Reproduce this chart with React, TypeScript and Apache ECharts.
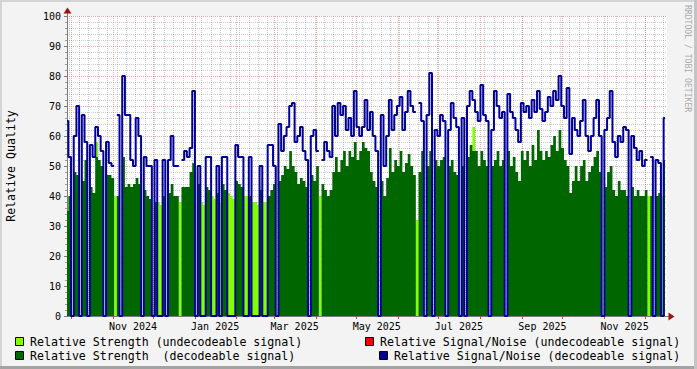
import React, { useEffect, useRef } from 'react';
import * as echarts from 'echarts';

const DAY = 86400000;
const START = Date.UTC(2024, 8, 28);
const END = START + 445.5 * DAY;
const STEP_DAYS = 2;

// Relative Signal/Noise (decodeable signal), one value per 2 days from START
const snrDecodeable: (number | null)[] = [
  65, 53, 0, 60, 70, 0, 67, 58, 0, 57,
  53, 63, 60, 55, 0, 58, 51, 50, null, 67,
  0, 80, 67, 67, 52, 50, 66, 60, 0, 53,
  50, 50, 0, 52, 0, 0, 52, 0, 52, 60,
  50, 50, null, 52, 55, 53, 56, 75, 0, 50,
  0, 0, 53, 53, 0, 0, 50, 0, 53, 53,
  0, 0, 0, 57, 53, 53, 0, 0, 53, 0,
  0, 0, 50, 0, 0, 57, 57, 50, 0, 64,
  55, 60, 63, 70, 71, 58, 60, 63, 55, 52,
  0, 60, 62, 55, null, 52, 58, 55, 53, 70,
  60, 71, 67, 70, 62, 66, 60, 75, 63, 60,
  63, 72, 62, 68, 60, 55, 0, 67, 50, 60,
  72, 62, 67, 70, 73, 62, 68, 75, 70, 68,
  null, 71, 65, 0, 67, 81, 0, 62, 60, 67,
  65, 0, 62, 71, 66, 63, 0, 66, 0, 70,
  75, 72, 68, 65, 77, 67, 65, 0, 62, 75,
  70, 66, 68, 0, 74, 68, 66, 62, 58, 71,
  68, 70, 66, 72, 68, 75, 69, 65, 68, 73,
  70, 75, 72, 80, 70, 66, 76, 54, 66, 62,
  60, 65, 72, 60, 55, 60, 66, 72, 60, 0,
  62, 66, 75, 58, 53, 60, 58, 63, 62, 0,
  60, 56, 52, 55, 50, 52, null, 53, 0, 52,
  51, 0, 66,
];

// Relative Strength (decodeable signal)
const strengthDecodeable = [
  35, 40, 0, 48, 47, 0, 45, 52, 0, 43,
  41, 53, 52, 50, 0, 47, 47, 46, 0, 40,
  0, 53, 43, 44, 43, 44, 46, 44, 0, 42,
  40, 39, 0, 38, 0, 0, 40, 0, 41, 44,
  40, 40, 0, 43, 43, 43, 48, 51, 0, 44,
  0, 0, 43, 42, 0, 0, 41, 0, 44, 42,
  0, 0, 0, 45, 44, 43, 0, 0, 40, 0,
  0, 0, 42, 0, 0, 40, 42, 44, 0, 45,
  47, 50, 49, 55, 50, 48, 44, 46, 45, 43,
  0, 47, 45, 50, 0, 44, 42, 40, 42, 48,
  53, 48, 52, 55, 50, 55, 53, 58, 52, 55,
  58, 56, 55, 48, 45, 43, 0, 45, 40, 46,
  56, 48, 52, 50, 55, 48, 51, 54, 50, 47,
  0, 48, 55, 0, 50, 55, 0, 52, 50, 52,
  53, 0, 50, 52, 48, 47, 0, 50, 0, 53,
  57, 55, 55, 50, 55, 52, 50, 0, 50, 52,
  55, 50, 52, 0, 55, 50, 53, 48, 45, 55,
  52, 55, 50, 57, 52, 62, 55, 52, 55, 53,
  57, 60, 55, 62, 56, 52, 50, 41, 45, 50,
  45, 50, 52, 45, 48, 50, 53, 55, 48, 0,
  43, 48, 50, 42, 40, 45, 42, 42, 40, 0,
  43, 40, 42, 40, 40, 42, 0, 40, 0, 40,
  41, 0, 52,
];

// Relative Strength (undecodeable signal)
const strengthUndecodeable = [
  35, 0, 0, 0, 0, 0, 0, 0, 0, 0,
  0, 58, 0, 0, 0, 0, 0, 0, 40, 0,
  0, 0, 0, 0, 0, 0, 0, 0, 0, 0,
  0, 0, 0, 0, 38, 37, 0, 0, 0, 0,
  0, 0, 38, 0, 0, 0, 0, 0, 0, 0,
  38, 37, 0, 0, 40, 39, 0, 38, 0, 0,
  41, 40, 39, 0, 0, 0, 40, 40, 0, 38,
  38, 37, 0, 38, 38, 0, 0, 0, 0, 0,
  0, 0, 0, 0, 0, 0, 0, 0, 0, 0,
  0, 0, 0, 0, 40, 0, 0, 0, 0, 0,
  0, 0, 0, 0, 0, 0, 0, 0, 0, 0,
  0, 0, 0, 0, 0, 0, 0, 0, 0, 0,
  0, 0, 0, 0, 0, 0, 0, 0, 0, 0,
  32, 0, 0, 0, 0, 0, 0, 0, 0, 0,
  0, 0, 0, 0, 0, 0, 0, 0, 0, 0,
  0, 63, 0, 0, 0, 0, 0, 0, 0, 0,
  0, 0, 0, 0, 0, 0, 0, 0, 0, 0,
  0, 0, 0, 0, 0, 0, 0, 0, 0, 0,
  0, 0, 0, 0, 0, 0, 0, 0, 0, 0,
  0, 0, 0, 0, 0, 0, 0, 0, 0, 0,
  0, 0, 0, 0, 0, 0, 0, 0, 0, 0,
  0, 0, 0, 0, 0, 0, 40, 0, 0, 0,
  0, 40, 0,
];

// Relative Signal/Noise (undecodeable signal): no samples in this period
const snrUndecodeable: number[] = [];

const xTickLabels = ['Nov 2024', 'Jan 2025', 'Mar 2025', 'May 2025', 'Jul 2025', 'Sep 2025', 'Nov 2025'];
const xLabelMonths: [number, number][] = [[2024, 10], [2025, 0], [2025, 2], [2025, 4], [2025, 6], [2025, 8], [2025, 10]];
const yTicks = [0, 10, 20, 30, 40, 50, 60, 70, 80, 90, 100];

const seriesNames = [
  'Relative Strength (undecodeable signal)',
  'Relative Signal/Noise (undecodeable signal)',
  'Relative Strength  (decodeable signal)',
  'Relative Signal/Noise (decodeable signal)',
];
const colors = ['#80FF00', '#FF0000', '#006600', '#000099'];

const MONO = 'DejaVu Sans Mono';

function monthStarts(): number[] {
  const out: number[] = [];
  for (let y = 2024; y <= 2025; y++) {
    for (let m = 0; m < 12; m++) {
      const t = Date.UTC(y, m, 1);
      if (t > START && t < END) out.push(t);
    }
  }
  return out;
}

function weekStarts(): number[] {
  const out: number[] = [];
  let t = Date.UTC(2024, 8, 30); // Monday
  while (t < END) {
    out.push(t);
    t += 7 * DAY;
  }
  return out;
}

const labelValues = xLabelMonths.map(([y, m]) => Date.UTC(y, m, 1) + 15 * DAY);

function pairs(arr: (number | null)[]) {
  return arr.map((v, i) => [START + i * STEP_DAYS * DAY, v]);
}

export default function App() {
  const ref = useRef<HTMLDivElement>(null);
  useEffect(() => {
    const chart = echarts.init(ref.current!, null, { renderer: 'svg', width: 697, height: 369 });
    const gridLeft = 67, gridTop = 16, gridW = 600, gridH = 300;
    const axisColor = '#7A7A7A';
    const majorGrid = 'rgba(205,90,90,0.5)';
    const minorGrid = 'rgba(140,140,140,0.45)';
    const legendRows = [
      { x: 15, y: 337, name: seriesNames[0], color: colors[0] },
      { x: 365, y: 337, name: seriesNames[1], color: colors[1] },
      { x: 15, y: 351, name: seriesNames[2], color: colors[2] },
      { x: 379, y: 351, name: seriesNames[3], color: colors[3] },
    ];
    const legendGraphics: any[] = [];
    legendRows.forEach((r) => {
      legendGraphics.push({
        type: 'rect',
        shape: { x: r.x + 0.5, y: r.y + 0.5, width: 8, height: 8 },
        style: { fill: r.color, stroke: '#000', lineWidth: 1 },
      });
      legendGraphics.push({
        type: 'text',
        x: r.x + 15,
        y: r.y + 4.5,
        style: { text: r.name, fill: '#000', font: `11.6px "${MONO}"`, textVerticalAlign: 'middle', textAlign: 'left' },
      });
    });

    const option: any = {
      animation: false,
      grid: {
        left: gridLeft, top: gridTop, width: gridW, height: gridH,
        containLabel: false, outerBoundsMode: 'none',
        show: true, backgroundColor: '#FFFFFF', borderWidth: 0,
      },
      xAxis: [
        {
          type: 'value', min: START, max: END, position: 'bottom',
          axisLine: { show: true, onZero: false, lineStyle: { color: axisColor, width: 1 } },
          axisTick: { show: true, customValues: monthStarts(), length: 3, lineStyle: { color: '#D04040' } },
          axisLabel: {
            show: true, customValues: labelValues, margin: 5, fontFamily: MONO, fontSize: 10, color: '#000',
            formatter: (v: number) => {
              const k = labelValues.findIndex((t) => Math.abs(t - v) < DAY);
              return k >= 0 ? xTickLabels[k] : '';
            },
          },
          splitLine: { show: true, lineStyle: { color: majorGrid, width: 1, type: [1, 1] } },
          z: 3,
        },
        {
          type: 'value', min: START, max: END, position: 'bottom',
          axisLine: { show: false }, axisLabel: { show: false },
          axisTick: { show: false, customValues: weekStarts() },
          splitLine: { show: true, lineStyle: { color: minorGrid, width: 1, type: [1, 1] } },
          z: 1,
        },
      ],
      yAxis: {
        type: 'value', min: 0, max: 100, interval: 10,
        name: 'Relative Quality', nameLocation: 'middle', nameGap: 50,
        nameTextStyle: { fontFamily: MONO, fontSize: 11.6, color: '#000' },
        axisLine: { show: true, lineStyle: { color: axisColor, width: 1 } },
        axisTick: { show: true, length: 3, lineStyle: { color: axisColor } },
        minorTick: { show: true, splitNumber: 5, length: 2, lineStyle: { color: '#A0A0A0' } },
        axisLabel: {
          margin: 6, fontFamily: MONO, fontSize: 10, color: '#000',
          formatter: (v: number) => (yTicks.includes(v) ? String(v) : ''),
        },
        splitLine: { show: true, lineStyle: { color: majorGrid, width: 1, type: [1, 1] } },
        minorSplitLine: { show: true, lineStyle: { color: minorGrid, width: 1, type: [1, 1] } },
      },
      series: [
        {
          name: seriesNames[0], type: 'line', step: 'middle', data: pairs(strengthUndecodeable),
          symbol: 'none', lineStyle: { width: 0 }, areaStyle: { color: colors[0], opacity: 1 }, z: 2,
        },
        {
          name: seriesNames[2], type: 'line', step: 'middle', data: pairs(strengthDecodeable),
          symbol: 'none', lineStyle: { width: 0 }, areaStyle: { color: colors[2], opacity: 1 }, z: 3,
        },
        {
          name: seriesNames[1], type: 'line', step: 'middle', data: pairs(snrUndecodeable),
          symbol: 'none', lineStyle: { width: 2, color: colors[1] }, z: 4,
        },
        {
          name: seriesNames[3], type: 'line', step: 'middle', data: pairs(snrDecodeable),
          symbol: 'none', lineStyle: { width: 2, color: colors[3] }, z: 5,
        },
      ],
      graphic: [
        { type: 'rect', shape: { x: 0, y: 0, width: 697, height: 2 }, style: { fill: '#D4D4D4' }, z: -10 },
        { type: 'rect', shape: { x: 0, y: 0, width: 2, height: 369 }, style: { fill: '#D4D4D4' }, z: -10 },
        { type: 'rect', shape: { x: 0, y: 366, width: 697, height: 3 }, style: { fill: '#A3A3A3' }, z: -10 },
        { type: 'rect', shape: { x: 694, y: 0, width: 3, height: 369 }, style: { fill: '#C4C4C4' }, z: -10 },
        { type: 'line', shape: { x1: 67.5, y1: 16, x2: 67.5, y2: 12 }, style: { stroke: axisColor, lineWidth: 1 } },
        { type: 'polygon', shape: { points: [[63.5, 13.5], [71.5, 13.5], [67.5, 7.5]] }, style: { fill: '#A01010' } },
        { type: 'line', shape: { x1: 667, y1: 316.5, x2: 669, y2: 316.5 }, style: { stroke: axisColor, lineWidth: 1 } },
        { type: 'polygon', shape: { points: [[668.5, 312.5], [668.5, 320.5], [674.5, 316.5]] }, style: { fill: '#A01010' } },
        {
          type: 'text', x: 687.5, y: 5, rotation: -Math.PI / 2,
          style: { text: 'RRDTOOL / TOBI OETIKER', fill: '#ABABAB', font: `8.1px "${MONO}"`, textAlign: 'left', textVerticalAlign: 'middle' },
        },
        ...legendGraphics,
      ],
    };
    chart.setOption(option);
    return () => chart.dispose();
  }, []);
  return (
    <div style={{ position: 'fixed', left: 0, top: 0, width: 697, height: 369, background: '#F3F3F3' }}>
      <div ref={ref} style={{ width: 697, height: 369 }} />
    </div>
  );
}
